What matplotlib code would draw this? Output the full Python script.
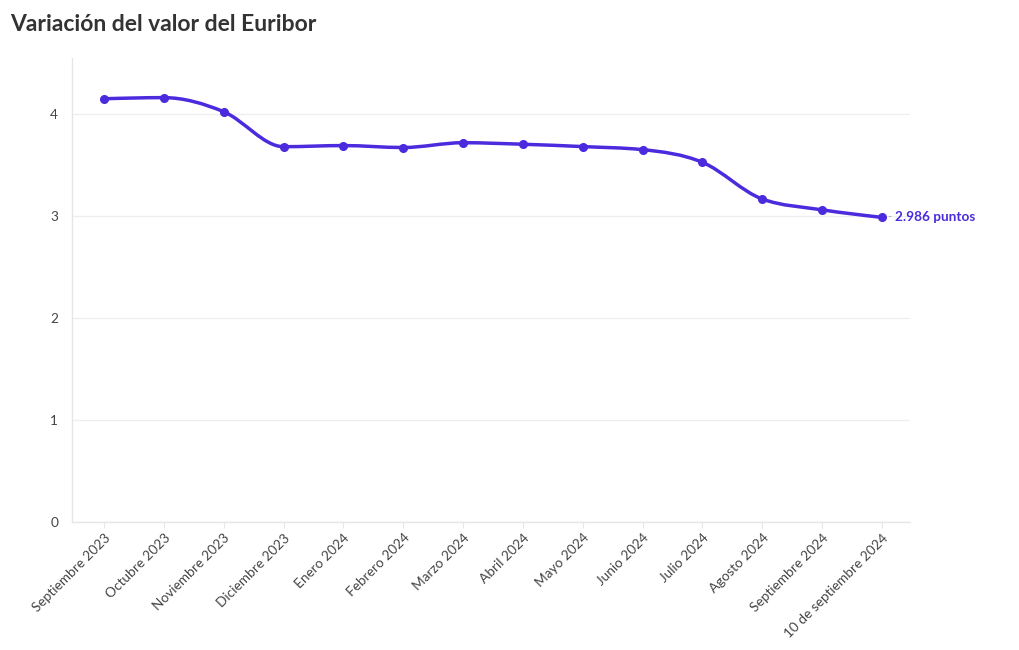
import matplotlib.pyplot as plt
from matplotlib.path import Path
from matplotlib.patches import PathPatch
import numpy as np

# data
meses = ["Septiembre 2023", "Octubre 2023", "Noviembre 2023", "Diciembre 2023",
         "Enero 2024", "Febrero 2024", "Marzo 2024", "Abril 2024", "Mayo 2024",
         "Junio 2024", "Julio 2024", "Agosto 2024", "Septiembre 2024",
         "10 de septiembre 2024"]
euribor = [4.149, 4.160, 4.022, 3.679, 3.690, 3.671, 3.718, 3.703, 3.680,
           3.650, 3.526, 3.166, 3.060, 2.986]
yticks = [0, 1, 2, 3, 4]

color = "#4b2bdd"
font = ["Lato", "DejaVu Sans"]
plt.rcParams["font.family"] = font


def monotone_path(x, y):
    # monotone cubic (like d3 curveMonotoneX) as bezier segments
    x = np.asarray(x, float)
    y = np.asarray(y, float)
    n = len(x)
    h = np.diff(x)
    s = np.diff(y) / h
    t = np.zeros(n)
    for i in range(1, n - 1):
        p = (s[i - 1] * h[i] + s[i] * h[i - 1]) / (h[i - 1] + h[i])
        t[i] = (np.sign(s[i - 1]) + np.sign(s[i])) * min(abs(s[i - 1]), abs(s[i]), 0.5 * abs(p))
    t[0] = (3 * s[0] - t[1]) / 2
    t[-1] = (3 * s[-1] - t[-2]) / 2
    verts = [(x[0], y[0])]
    codes = [Path.MOVETO]
    for i in range(n - 1):
        dx = h[i] / 3
        verts += [(x[i] + dx, y[i] + dx * t[i]),
                  (x[i + 1] - dx, y[i + 1] - dx * t[i + 1]),
                  (x[i + 1], y[i + 1])]
        codes += [Path.CURVE4] * 3
    return Path(verts, codes)


def main():
    fig = plt.figure(figsize=(10.2, 6.5), dpi=100)
    ax = fig.add_axes([0.0706, 0.197, 0.8216, 0.714])
    ax.set_xlim(-0.535, 13.47)
    ax.set_ylim(0, 4.55)

    x = np.arange(len(meses))
    ax.add_patch(PathPatch(monotone_path(x, euribor), fill=False,
                           edgecolor=color, lw=2.5, capstyle="round"))
    ax.plot(x, euribor, "o", color=color, ms=5.5, zorder=3)

    ax.annotate("2.986 puntos", (x[-1], euribor[-1]), xytext=(9.5, 0),
                textcoords="offset points", va="center", ha="left",
                fontsize=9.8, fontweight="bold", color=color)
    ax.annotate("-", (x[-1], euribor[-1]), xytext=(4, 0.5),
                textcoords="offset points", va="center", ha="left",
                fontsize=8, color="#aaaaaa")

    ax.set_yticks(yticks)
    ax.set_xticks(x)
    ax.set_xticklabels(meses, rotation=45, ha="right", rotation_mode="anchor")
    ax.tick_params(axis="x", length=4, color="#e6e6e6", labelsize=9.8,
                   labelcolor="#444444", pad=3)
    ax.tick_params(axis="y", length=0, labelsize=9.8, labelcolor="#444444", pad=10)
    ax.grid(axis="y", color="#eeeeee", lw=0.9)
    ax.set_axisbelow(True)
    for s in ["top", "right"]:
        ax.spines[s].set_visible(False)
    for s in ["left", "bottom"]:
        ax.spines[s].set_color("#e6e6e6")
        ax.spines[s].set_linewidth(1)

    fig.text(0.0098, 0.963, "Variación del valor del Euribor", fontsize=16.5,
             fontweight="bold", color="#333333", va="center", ha="left")

    fig.savefig("out.png", dpi=100)


if __name__ == "__main__":
    main()
